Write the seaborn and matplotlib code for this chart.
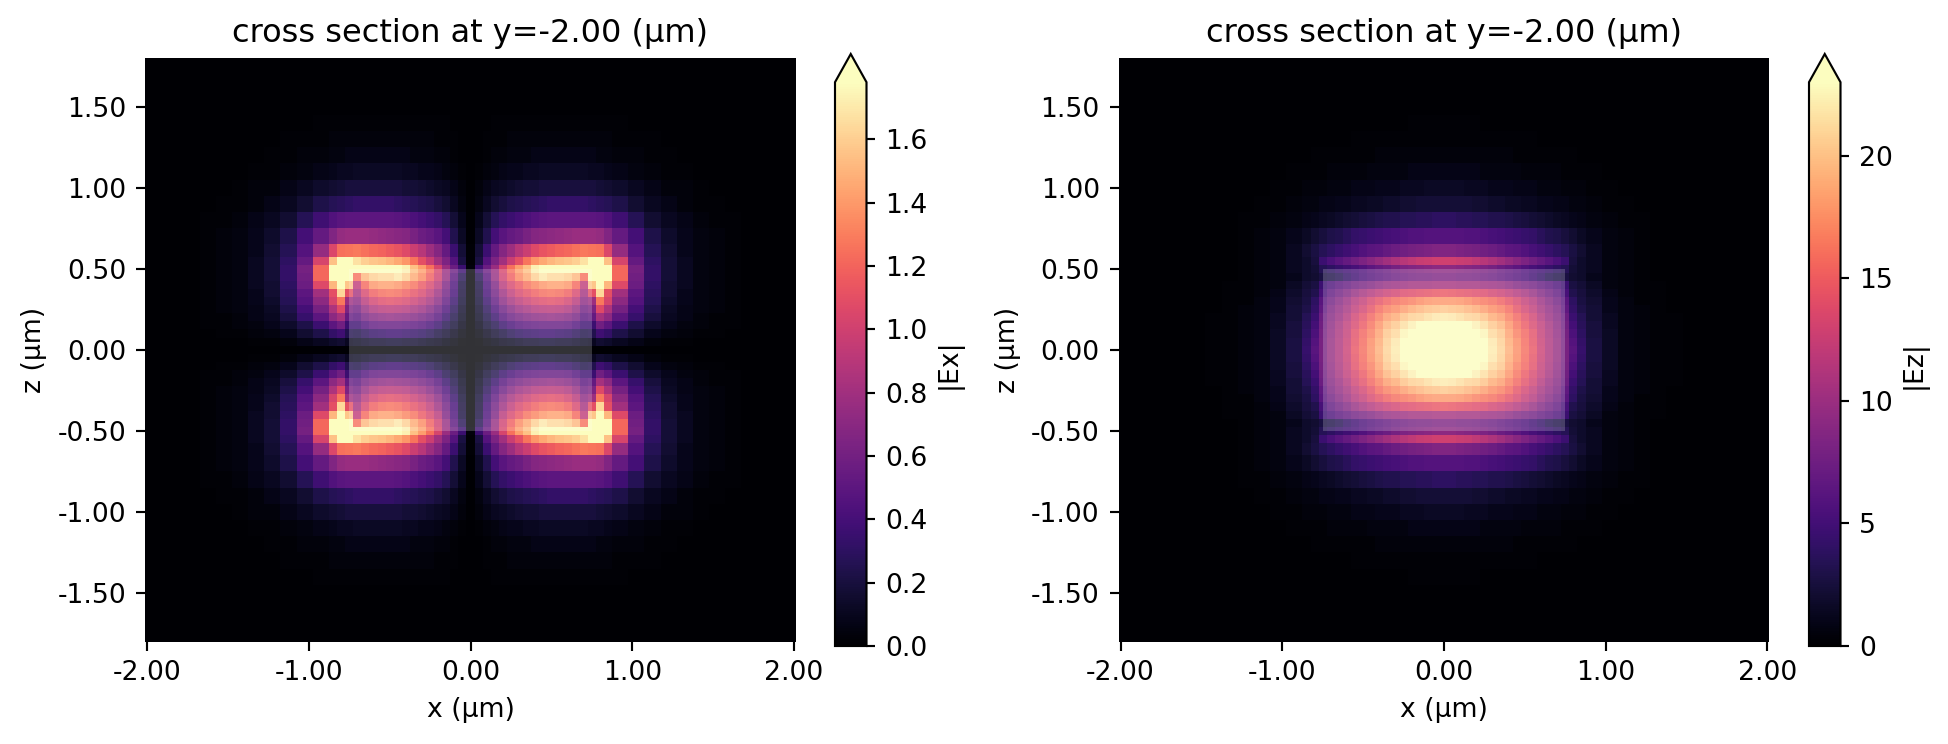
import numpy as np
import pandas as pd
import matplotlib
matplotlib.use("Agg")
import matplotlib.pyplot as plt
from matplotlib.patches import Rectangle
import seaborn as sns

# one quadrant of each field, percent of the colour limit
# rows go from z=0 upwards, columns from x=0 outwards
ex_pct = [
    [0] * 30,
    [0, 1, 3, 4, 6, 7, 8, 9, 9, 10, 10, 9, 9, 8, 7, 6, 9, 8, 6, 4, 2, 1, 1, 0, 0, 0, 0, 0, 0, 0],
    [0, 3, 6, 9, 12, 15, 17, 18, 19, 20, 20, 19, 18, 16, 13, 14, 21, 18, 13, 9, 5, 3, 2, 1, 1, 0, 0, 0, 0, 0],
    [0, 5, 10, 14, 19, 23, 26, 28, 29, 30, 30, 30, 29, 25, 20, 20, 33, 28, 20, 13, 8, 5, 3, 2, 1, 1, 0, 0, 0, 0],
    [0, 7, 13, 19, 26, 31, 34, 37, 39, 40, 41, 40, 38, 34, 27, 30, 46, 40, 28, 19, 11, 6, 4, 2, 1, 1, 0, 0, 0, 0],
    [0, 8, 16, 24, 32, 38, 43, 46, 49, 50, 51, 50, 48, 42, 33, 36, 60, 48, 34, 22, 13, 7, 4, 3, 2, 1, 0, 0, 0, 0],
    [1, 10, 19, 29, 39, 46, 51, 55, 58, 60, 61, 60, 57, 50, 40, 44, 72, 58, 40, 26, 15, 8, 5, 3, 2, 1, 0, 0, 0, 0],
    [1, 11, 22, 33, 44, 52, 58, 62, 66, 69, 70, 69, 66, 58, 46, 62, 92, 62, 45, 28, 16, 9, 5, 3, 2, 1, 0, 0, 0, 0],
    [1, 12, 24, 36, 50, 58, 64, 70, 74, 78, 80, 80, 78, 68, 52, 88, 100, 85, 60, 32, 17, 9, 6, 3, 2, 1, 0, 0, 0, 0],
    [1, 15, 27, 42, 56, 66, 75, 82, 90, 95, 92, 92, 90, 85, 70, 100, 100, 100, 68, 33, 18, 10, 6, 3, 2, 1, 0, 0, 0, 0],
    [2, 20, 32, 43, 58, 70, 80, 87, 97, 100, 100, 100, 100, 100, 100, 100, 100, 100, 68, 34, 18, 10, 6, 3, 2, 1, 0, 0, 0, 0],
    [1, 12, 26, 36, 45, 55, 62, 71, 78, 82, 85, 87, 88, 90, 94, 100, 100, 87, 58, 30, 17, 10, 6, 3, 2, 1, 0, 0, 0, 0],
    [1, 10, 20, 30, 38, 44, 50, 55, 60, 63, 65, 67, 68, 70, 72, 71, 70, 59, 42, 26, 15, 9, 5, 3, 2, 1, 0, 0, 0, 0],
    [0, 7, 14, 22, 27, 30, 32, 35, 38, 39, 40, 41, 42, 43, 43, 43, 42, 37, 30, 22, 13, 8, 5, 3, 2, 1, 0, 0, 0, 0],
    [0, 5, 10, 15, 18, 20, 22, 24, 26, 27, 28, 28, 28, 28, 28, 28, 27, 25, 21, 15, 9, 6, 4, 2, 1, 1, 0, 0, 0, 0],
    [0, 3, 6, 9, 11, 13, 14, 15, 16, 17, 18, 18, 18, 18, 18, 17, 16, 15, 13, 9, 6, 4, 2, 1, 1, 0, 0, 0, 0, 0],
    [0, 2, 4, 6, 7, 8, 9, 10, 10, 11, 11, 11, 11, 11, 11, 11, 10, 9, 8, 6, 4, 2, 2, 1, 0, 0, 0, 0, 0, 0],
    [0, 1, 2, 3, 4, 5, 5, 6, 6, 7, 7, 7, 7, 7, 7, 6, 6, 5, 4, 3, 2, 1, 1, 0, 0, 0, 0, 0, 0, 0],
    [0, 0, 1, 2, 2, 3, 3, 3, 4, 4, 4, 4, 4, 4, 4, 4, 3, 3, 2, 2, 1, 1, 0, 0, 0, 0, 0, 0, 0, 0],
    [0, 0, 1, 1, 1, 2, 2, 2, 2, 2, 2, 2, 2, 2, 2, 2, 2, 2, 1, 1, 1, 0, 0, 0, 0, 0, 0, 0, 0, 0],
    [0, 0, 0, 1, 1, 1, 1, 1, 1, 1, 1, 1, 1, 1, 1, 1, 1, 1, 1, 0, 0, 0, 0, 0, 0, 0, 0, 0, 0, 0],
    [0] * 30,
    [0] * 30,
    [0] * 30,
    [0] * 30,
]

ez_pct = [
    [100, 100, 100, 100, 100, 100, 96, 91, 83, 76, 69, 63, 55, 48, 42, 35, 27, 19, 12, 7, 3, 2, 1, 1, 0, 0, 0, 0, 0, 0],
    [100, 100, 100, 100, 100, 100, 95, 90, 82, 75, 68, 62, 54, 48, 42, 35, 26, 18, 12, 7, 3, 2, 1, 1, 0, 0, 0, 0, 0, 0],
    [100, 100, 100, 100, 100, 98, 92, 88, 80, 73, 67, 61, 53, 47, 41, 34, 24, 17, 11, 7, 3, 2, 1, 1, 0, 0, 0, 0, 0, 0],
    [100, 100, 100, 100, 97, 93, 88, 84, 77, 70, 64, 58, 52, 46, 40, 33, 22, 16, 11, 6, 3, 2, 1, 1, 0, 0, 0, 0, 0, 0],
    [96, 95, 93, 91, 90, 87, 82, 79, 73, 67, 61, 56, 49, 43, 38, 32, 20, 15, 10, 6, 3, 2, 1, 1, 0, 0, 0, 0, 0, 0],
    [88, 87, 86, 84, 82, 79, 75, 73, 68, 62, 57, 52, 46, 41, 36, 29, 18, 13, 10, 5, 3, 2, 1, 0, 0, 0, 0, 0, 0, 0],
    [78, 78, 77, 75, 73, 71, 69, 66, 62, 58, 53, 49, 43, 38, 33, 27, 17, 12, 9, 5, 3, 1, 1, 0, 0, 0, 0, 0, 0, 0],
    [64, 63, 62, 61, 60, 59, 57, 55, 52, 49, 46, 42, 37, 33, 29, 23, 14, 11, 8, 4, 2, 1, 1, 0, 0, 0, 0, 0, 0, 0],
    [46, 46, 45, 45, 45, 44, 43, 42, 40, 37, 35, 33, 30, 27, 24, 20, 12, 10, 7, 3, 2, 1, 1, 0, 0, 0, 0, 0, 0, 0],
    [36, 36, 35, 35, 34, 33, 32, 30, 28, 26, 24, 21, 18, 15, 13, 12, 9, 8, 5, 3, 2, 1, 0, 0, 0, 0, 0, 0, 0, 0],
    [40, 40, 39, 38, 37, 36, 34, 32, 30, 28, 25, 23, 21, 19, 17, 15, 10, 8, 6, 3, 2, 1, 0, 0, 0, 0, 0, 0, 0, 0],
    [56, 56, 55, 54, 52, 50, 48, 45, 42, 39, 36, 33, 30, 27, 24, 20, 11, 8, 6, 3, 2, 1, 0, 0, 0, 0, 0, 0, 0, 0],
    [37, 37, 36, 35, 34, 33, 32, 30, 28, 27, 25, 23, 21, 19, 17, 15, 12, 9, 6, 3, 2, 1, 0, 0, 0, 0, 0, 0, 0, 0],
    [26, 26, 26, 25, 25, 24, 23, 22, 21, 20, 19, 18, 16, 14, 13, 11, 9, 7, 5, 3, 2, 1, 0, 0, 0, 0, 0, 0, 0, 0],
    [17, 17, 16, 16, 15, 15, 14, 14, 13, 12, 11, 10, 9, 8, 7, 6, 5, 4, 3, 2, 1, 1, 0, 0, 0, 0, 0, 0, 0, 0],
    [10, 10, 10, 10, 9, 9, 8, 8, 7, 7, 6, 6, 5, 5, 4, 4, 3, 3, 2, 1, 1, 0, 0, 0, 0, 0, 0, 0, 0, 0],
    [7, 7, 7, 6, 6, 6, 5, 5, 5, 4, 4, 4, 3, 3, 3, 2, 2, 2, 1, 1, 0, 0, 0, 0, 0, 0, 0, 0, 0, 0],
    [4, 4, 4, 4, 4, 3, 3, 3, 3, 3, 2, 2, 2, 2, 2, 1, 1, 1, 1, 0, 0, 0, 0, 0, 0, 0, 0, 0, 0, 0],
    [2, 2, 2, 2, 2, 2, 2, 2, 2, 1, 1, 1, 1, 1, 1, 1, 1, 0, 0, 0, 0, 0, 0, 0, 0, 0, 0, 0, 0, 0],
    [1, 1, 1, 1, 1, 1, 1, 1, 1, 1, 1, 1, 0, 0, 0, 0, 0, 0, 0, 0, 0, 0, 0, 0, 0, 0, 0, 0, 0, 0],
    [1, 1, 1, 1, 1, 0, 0, 0, 0, 0, 0, 0, 0, 0, 0, 0, 0, 0, 0, 0, 0, 0, 0, 0, 0, 0, 0, 0, 0, 0],
    [0] * 30,
    [0] * 30,
    [0] * 30,
    [0] * 30,
]

ex_limit = 1.78
ez_limit = 23.0
ticks_x = [-2.0, -1.0, 0.0, 1.0, 2.0]
ticks_z = [-1.5, -1.0, -0.5, 0.0, 0.5, 1.0, 1.5]

# grid cell sizes in units of 0.025 um, the mesh is finer inside the guide
cell = 0.025
col_sizes = [2] * 18 + [4] * 11 + [2]
row_sizes = [2] * 12 + [3] + [4] * 11 + [2]
half_x = (sum(col_sizes) - 1) * cell
half_z = (sum(row_sizes) - 1) * cell
guide_x = 0.75
guide_z = 0.5


def unfold(quadrant):
    top = np.array(quadrant, dtype=float)[::-1]
    rows = np.vstack([top, top[-2::-1]])
    full = np.hstack([rows[:, :0:-1], rows])
    full = np.repeat(full, col_sizes[:0:-1] + col_sizes, axis=1)
    return np.repeat(full, row_sizes[::-1] + row_sizes[1:], axis=0)


def to_col(x):
    return (x + half_x) / cell


def to_row(z):
    return (half_z - z) / cell


fig = plt.figure(figsize=(1949 / 200, 744 / 200), dpi=200)
W, H = 1949.0, 744.0


def box(left, right, top, bottom):
    return [left / W, 1 - bottom / H, (right - left) / W, (bottom - top) / H]


panels = [
    (ex_pct, ex_limit, '|Ex|', 145, 796, 835, 866.5),
    (ez_pct, ez_limit, '|Ez|', 1118.5, 1769.5, 1809, 1840.5),
]

for pct, limit, name, left, right, cleft, cright in panels:
    ax = fig.add_axes(box(left, right, 58, 641.5))
    cax = fig.add_axes(box(cleft, cright, 54, 646))
    field = pd.DataFrame(unfold(pct) / 100 * limit)
    sns.heatmap(field, ax=ax, cmap='magma', vmin=0, vmax=limit, cbar_ax=cax,
                xticklabels=False, yticklabels=False,
                cbar_kws={'extend': 'max', 'label': name})

    # the guide cross section sits over the field
    ax.add_patch(Rectangle((to_col(-guide_x), to_row(guide_z)),
                           2 * guide_x / cell, 2 * guide_z / cell,
                           facecolor='white', edgecolor='none', alpha=0.2))

    ax.set_xlim(to_col(-2.0125), to_col(2.0125))
    ax.set_ylim(to_row(-1.8), to_row(1.8))
    ax.set_xticks([to_col(v) for v in ticks_x])
    ax.set_xticklabels(['%.2f' % v for v in ticks_x], rotation=0)
    ax.set_yticks([to_row(v) for v in ticks_z])
    ax.set_yticklabels(['%.2f' % v for v in ticks_z], rotation=0)
    ax.tick_params(axis='both', length=3.36, width=0.77, pad=3.36, labelsize=9.6)
    ax.set_xlabel('x (μm)', fontsize=9.6, labelpad=3.8)
    ax.set_ylabel('z (μm)', fontsize=9.6, labelpad=3.8)
    ax.set_title('cross section at y=-2.00 (μm)', fontsize=11.5, pad=5.8)

    cbar = ax.collections[0].colorbar
    cbar.outline.set_linewidth(0.77)
    cbar.outline.set_edgecolor('black')
    cbar.ax.tick_params(length=3.36, width=0.77, pad=3.36, labelsize=9.6)
    cbar.set_label(name, fontsize=9.6, labelpad=2.9)

fig.savefig('out.png', dpi=200)
